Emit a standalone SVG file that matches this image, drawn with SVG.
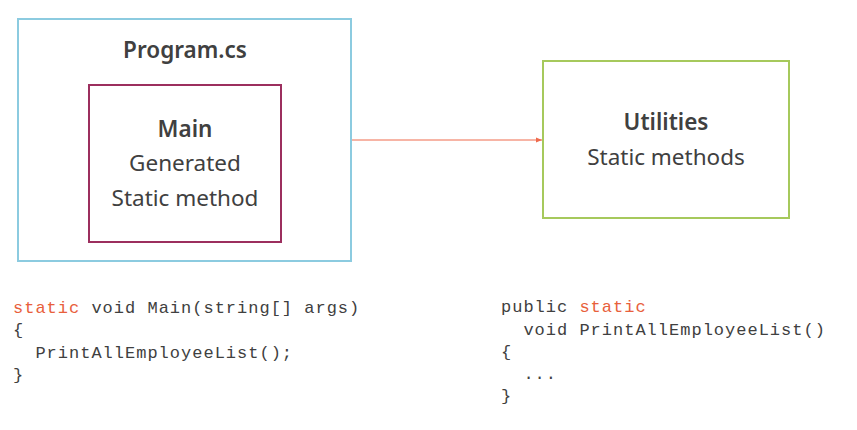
<svg xmlns="http://www.w3.org/2000/svg" width="857" height="430" viewBox="0 0 857 430">
<style>
.t{font-family:"Noto Sans","Liberation Sans",sans-serif;font-size:22.5px;font-weight:400;fill:#404040;text-anchor:middle}
.b{font-weight:600}
.c{font-family:"Liberation Mono","DejaVu Sans Mono",monospace;font-size:17px;fill:#404040;letter-spacing:1px;white-space:pre}
.k{fill:#e8603c}
</style>
<defs>
<marker id="ah" markerWidth="6" markerHeight="6" refX="6" refY="3" orient="auto" markerUnits="userSpaceOnUse">
<path d="M0,0.5 L6,3 L0,5.5 Z" fill="#ef6a4c"/>
</marker>
</defs>
<rect width="857" height="430" fill="#ffffff"/>
<g id="program">
<rect x="18" y="19" width="333" height="242" fill="none" stroke="#8ccbe0" stroke-width="2"/>
<text class="t b" x="185" y="58">Program.cs</text>
</g>
<g id="main">
<rect x="89" y="85" width="192" height="157" fill="none" stroke="#9c2f5e" stroke-width="2"/>
<text class="t b" x="185" y="137">Main</text>
<text class="t" x="185" y="171">Generated</text>
<text class="t" x="185" y="206">Static method</text>
</g>
<g id="utilities">
<rect x="543" y="61" width="246" height="157" fill="none" stroke="#a6c95c" stroke-width="2"/>
<text class="t b" x="666" y="130">Utilities</text>
<text class="t" x="666" y="165">Static methods</text>
</g>
<g id="connectors">
<line x1="352" y1="140" x2="542" y2="140" stroke="#ef6a4c" stroke-width="1" marker-end="url(#ah)"/>
</g>
<g id="code-main">
<text class="c" x="13" y="313"><tspan class="k">static</tspan> void Main(string[] args)</text>
<text class="c" x="13" y="335">{</text>
<text class="c" x="13" y="358">  PrintAllEmployeeList();</text>
<text class="c" x="13" y="380">}</text>
</g>
<g id="code-utilities">
<text class="c" x="501" y="312">public <tspan class="k">static</tspan></text>
<text class="c" x="501" y="335">  void PrintAllEmployeeList()</text>
<text class="c" x="501" y="357">{</text>
<text class="c" x="501" y="379">  ...</text>
<text class="c" x="501" y="401">}</text>
</g>
</svg>
